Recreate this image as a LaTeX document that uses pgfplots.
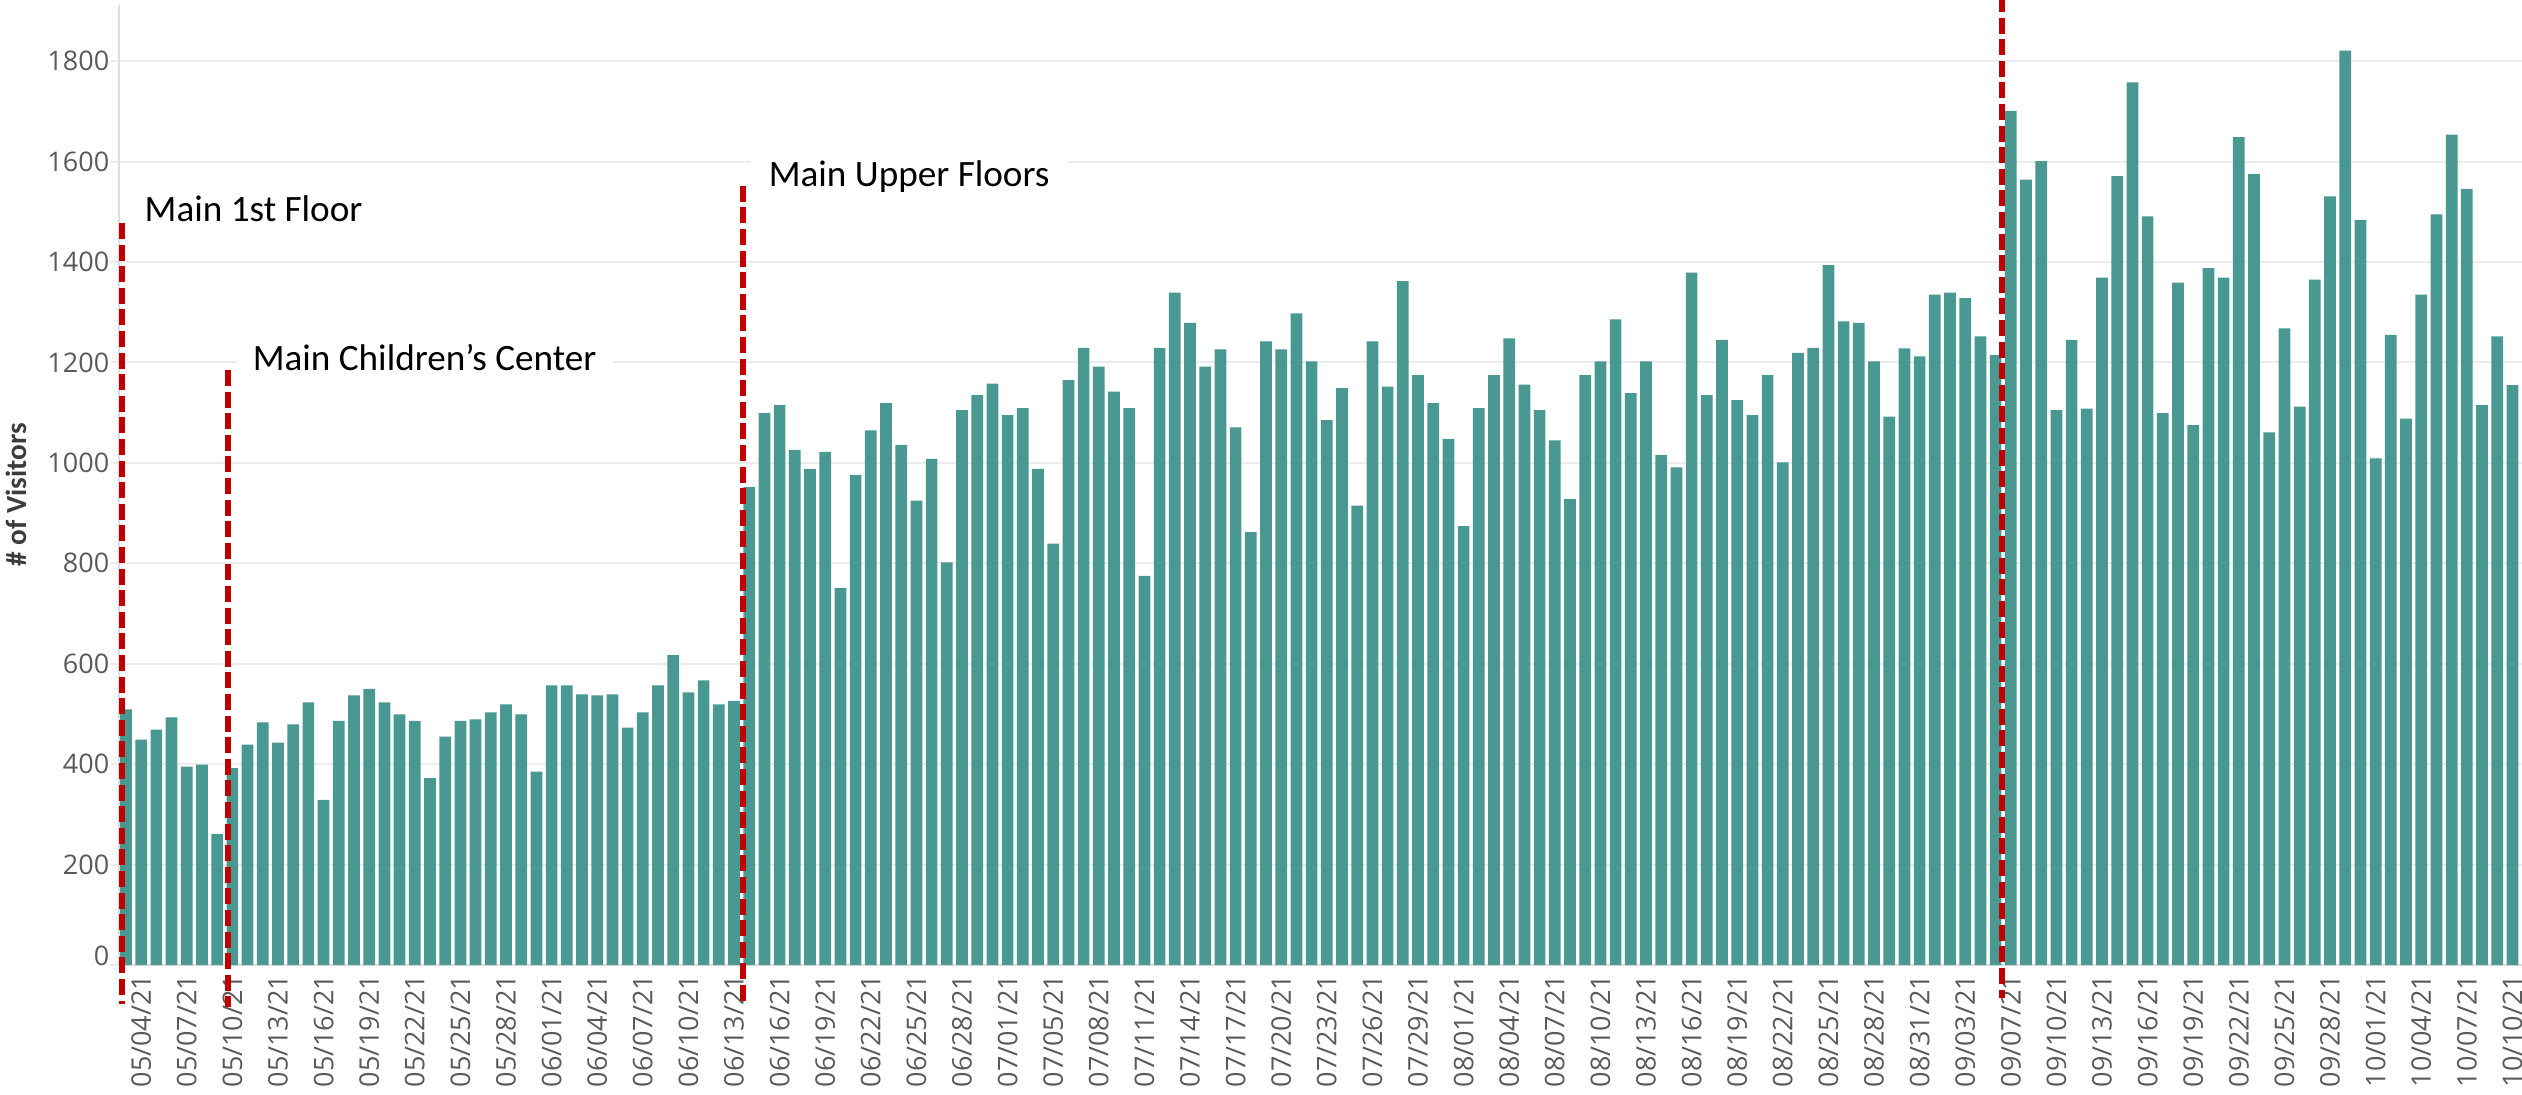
\documentclass[border=0pt]{standalone}
\usepackage{pgfplots}
\pgfplotsset{compat=1.18}
\usepackage{pgfplotstable}
\usepackage{fontspec}
\setmainfont{Carlito}
\newfontfamily\tickfont{Open Sans}
\definecolor{barteal}{RGB}{74,152,146}
\definecolor{gridc}{RGB}{236,236,236}
\definecolor{axc}{RGB}{222,222,222}
\definecolor{lblc}{RGB}{90,90,90}
\definecolor{titc}{RGB}{60,60,60}
\definecolor{redl}{RGB}{192,0,0}

\pgfplotstableread{
v
509
449
469
493
395
399
261
392
439
483
443
479
523
329
486
537
550
523
499
486
372
455
486
489
503
519
499
385
557
557
539
537
539
473
503
557
617
543
567
519
526
952
1099
1115
1026
988
1022
751
976
1065
1119
1036
925
1008
802
1105
1135
1158
1095
1109
988
839
1165
1229
1192
1142
1109
775
1229
1339
1279
1192
1226
1071
862
1242
1226
1298
1202
1085
1149
915
1242
1152
1362
1175
1119
1048
874
1109
1175
1248
1156
1105
1045
928
1175
1202
1286
1139
1202
1016
991
1379
1135
1245
1125
1095
1175
1001
1219
1229
1394
1282
1279
1202
1092
1228
1212
1335
1339
1328
1252
1215
1701
1564
1601
1105
1245
1108
1369
1571
1758
1491
1099
1359
1075
1388
1369
1649
1575
1061
1268
1112
1365
1531
1821
1484
1009
1255
1088
1335
1495
1654
1546
1115
1252
1155
}\visitors

\begin{document}
\begin{tikzpicture}
\path[use as bounding box] (0,0) rectangle (630.5bp,273.75bp);
\begin{axis}[
  at={(29.75bp,32.5bp)}, anchor=south west,
  scale only axis, width=600.75bp, height=240bp,
  xmin=-0.46, xmax=157.63, ymin=0, ymax=1912,
  axis lines=left,
  axis line style={draw=axc, line width=0.4bp, -},
  ytick={0,200,...,1800},
  ymajorgrids,
  grid style={draw=gridc, line width=0.5bp},
  tick align=outside,
  major tick length=2.25bp,
  ytick style={draw=gridc, line width=0.5bp},
  xtick={1,4,...,157},
  xtick style={draw=none},
  xticklabels={05/04/21,05/07/21,05/10/21,05/13/21,05/16/21,05/19/21,05/22/21,05/25/21,05/28/21,06/01/21,06/04/21,06/07/21,06/10/21,06/13/21,06/16/21,06/19/21,06/22/21,06/25/21,06/28/21,07/01/21,07/05/21,07/08/21,07/11/21,07/14/21,07/17/21,07/20/21,07/23/21,07/26/21,07/29/21,08/01/21,08/04/21,08/07/21,08/10/21,08/13/21,08/16/21,08/19/21,08/22/21,08/25/21,08/28/21,08/31/21,09/03/21,09/07/21,09/10/21,09/13/21,09/16/21,09/19/21,09/22/21,09/25/21,09/28/21,10/01/21,10/04/21,10/07/21,10/10/21},
  xticklabel style={rotate=90, anchor=east, inner sep=0pt, font=\tickfont\fontsize{6.75bp}{8bp}\selectfont, text=lblc},
  yticklabel style={anchor=east, inner sep=0pt, font=\tickfont\fontsize{6.75bp}{8bp}\selectfont, text=lblc},
  yticklabel={\ifdim\tick pt<1pt\raisebox{4.75bp}{\pgfmathprintnumber{\tick}}\else\pgfmathprintnumber{\tick}\fi},
  /pgf/number format/assume math mode=true,
  /pgf/number format/1000 sep={},
  ylabel={\# of Visitors},
  ylabel style={at={(axis description cs:-0.0429,0.49)}, anchor=center, font=\fontsize{7.3bp}{8bp}\selectfont\bfseries, text=titc},
  clip=false,
]
\addplot[ybar, bar width=0.77, fill=barteal, draw=none] table[x expr=\coordindex, y=v] {\visitors};

\node[anchor=base west, fill=white, inner xsep=2bp, inner ysep=2bp, xshift=-2bp, font=\fontsize{9.3bp}{11bp}\selectfont] at (axis cs:1.18,1480) {Main 1st Floor};
\node[anchor=base west, fill=white, inner xsep=4bp, inner ysep=3bp, xshift=-4bp, font=\fontsize{9.3bp}{11bp}\selectfont] at (axis cs:8.29,1185) {Main Children’s Center};
\node[anchor=base west, fill=white, inner xsep=4.5bp, inner ysep=3bp, xshift=-4.5bp, font=\fontsize{9.3bp}{11bp}\selectfont] at (axis cs:42.24,1550) {Main Upper Floors};

\draw[redl, line width=1.5bp, dash pattern=on 4bp off 1.4bp] (axis cs:-0.26,1478) -- (axis cs:-0.26,-78);
\draw[redl, line width=1.5bp, dash pattern=on 4bp off 1.4bp] (axis cs:6.71,1185) -- (axis cs:6.71,-84);
\draw[redl, line width=1.5bp, dash pattern=on 4bp off 1.4bp] (axis cs:40.56,1552) -- (axis cs:40.56,-80);
\draw[redl, line width=1.5bp, dash pattern=on 4bp off 1.4bp] (axis cs:123.4,1930) -- (axis cs:123.4,-66);
\end{axis}
\end{tikzpicture}
\end{document}
